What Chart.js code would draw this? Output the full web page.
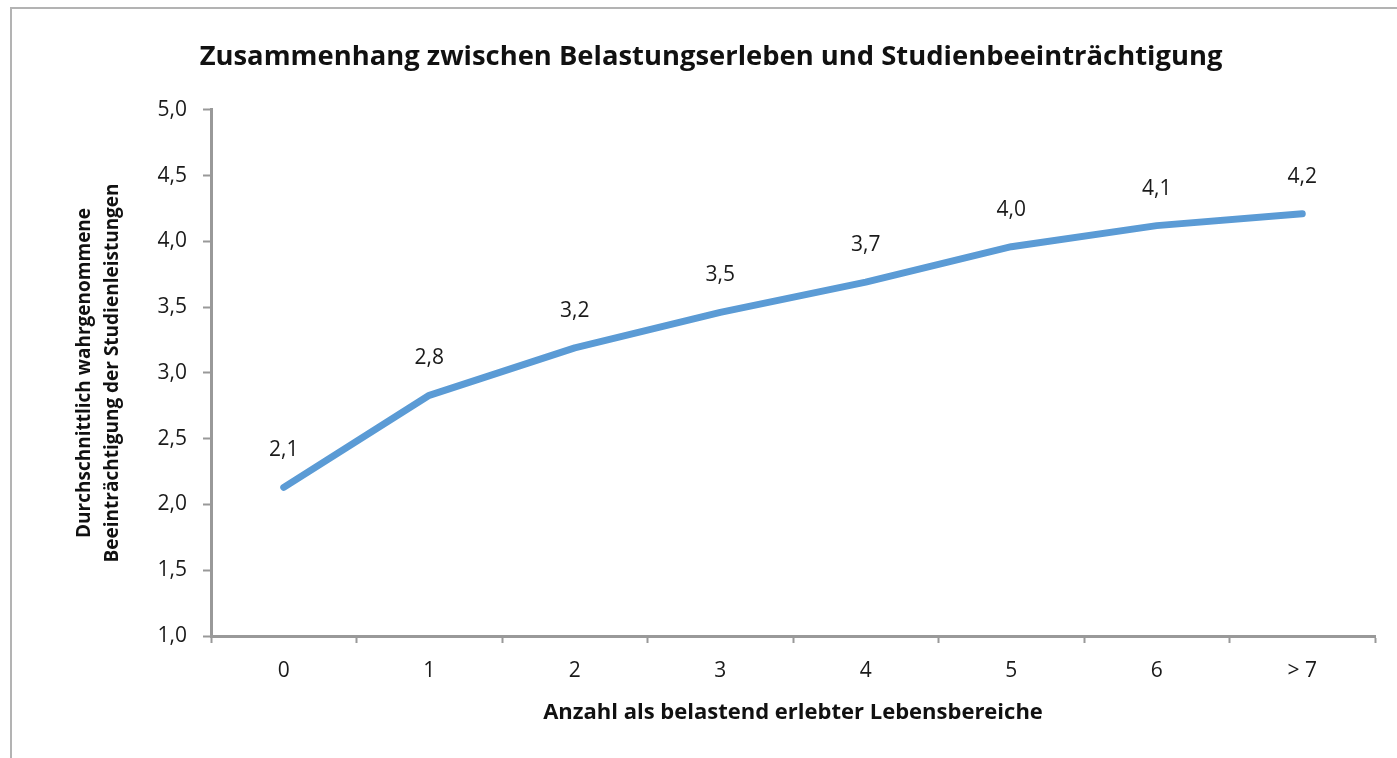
<!DOCTYPE html>
<html>
<head>
<meta charset="utf-8">
<script src="https://cdn.jsdelivr.net/npm/chart.js@4"></script>
<style>
  html, body { margin: 0; padding: 0; background: #fff; overflow: hidden; }
  #frame {
    position: absolute; left: 10px; top: 7px;
    width: 1420px; height: 780px;
    border: 2px solid #b3b3b3;
  }
  #wrap { position: absolute; left: 0; top: 0; width: 1397px; height: 758px; }
</style>
</head>
<body>
<div id="frame"></div>
<div id="wrap"><canvas id="chart"></canvas></div>
<script>
const categories = ["0", "1", "2", "3", "4", "5", "6", "> 7"];
const values = [2.13, 2.83, 3.19, 3.46, 3.69, 3.96, 4.12, 4.21];
const yTicks = [1.0, 1.5, 2.0, 2.5, 3.0, 3.5, 4.0, 4.5, 5.0];

const FONT = "'Open Sans', sans-serif";
const fmt = v => v.toFixed(1).replace(".", ",");

// value labels above each point
const valueLabels = {
  id: "valueLabels",
  afterDatasetsDraw(chart) {
    const ctx = chart.ctx;
    const meta = chart.getDatasetMeta(0);
    ctx.save();
    ctx.font = "21px " + FONT;
    ctx.fillStyle = "#1a1a1a";
    ctx.textAlign = "center";
    ctx.textBaseline = "middle";
    meta.data.forEach((pt, i) => {
      ctx.fillText(fmt(values[i]), pt.x, pt.y - 37);
    });
    ctx.restore();
  }
};

new Chart(document.getElementById("chart"), {
  type: "line",
  data: {
    labels: categories,
    datasets: [{
      data: values,
      borderColor: "#5b9bd5",
      borderWidth: 7,
      borderCapStyle: "round",
      borderJoinStyle: "round",
      tension: 0,
      pointRadius: 0,
      fill: false
    }]
  },
  options: {
    responsive: true,
    maintainAspectRatio: false,
    animation: false,
    layout: { padding: { left: 47, right: 22, top: 0, bottom: 0 } },
    plugins: {
      legend: { display: false },
      tooltip: { enabled: false },
      title: {
        display: true,
        text: "Zusammenhang zwischen Belastungserleben und Studienbeeinträchtigung",
        color: "#111",
        font: { family: FONT, size: 27.4, weight: "bold", lineHeight: 1.2 },
        padding: { top: 41, bottom: 36 }
      }
    },
    scales: {
      x: {
        offset: true,
        grid: {
          offset: true,
          drawOnChartArea: false,
          tickLength: 7,
          tickWidth: 2,
          tickColor: "#999"
        },
        border: { color: "#999", width: 3 },
        ticks: {
          color: "#1a1a1a",
          padding: 15,
          font: { family: FONT, size: 21 }
        },
        title: {
          display: true,
          text: "Anzahl als belastend erlebter Lebensbereiche",
          color: "#111",
          font: { family: FONT, size: 22, weight: "bold", lineHeight: "24px" },
          padding: { top: 0, bottom: 33 }
        },
        afterFit(scale) { scale.height = 122; }
      },
      y: {
        min: 1,
        max: 5,
        afterBuildTicks(scale) { scale.ticks = yTicks.map(v => ({ value: v })); },
        grid: {
          drawOnChartArea: false,
          tickLength: 8,
          tickWidth: 2,
          tickColor: "#999"
        },
        border: { color: "#999", width: 3 },
        ticks: {
          color: "#1a1a1a",
          padding: 16,
          font: { family: FONT, size: 21 },
          callback: v => fmt(v)
        },
        title: {
          display: true,
          text: ["Durchschnittlich wahrgenommene", "Beeinträchtigung der Studienleistungen"],
          color: "#111",
          font: { family: FONT, size: 19, weight: "bold", lineHeight: "28px" },
          padding: { top: 24, bottom: 0 }
        },
        afterFit(scale) { scale.width = 164; }
      }
    }
  },
  plugins: [valueLabels]
});
</script>
</body>
</html>
